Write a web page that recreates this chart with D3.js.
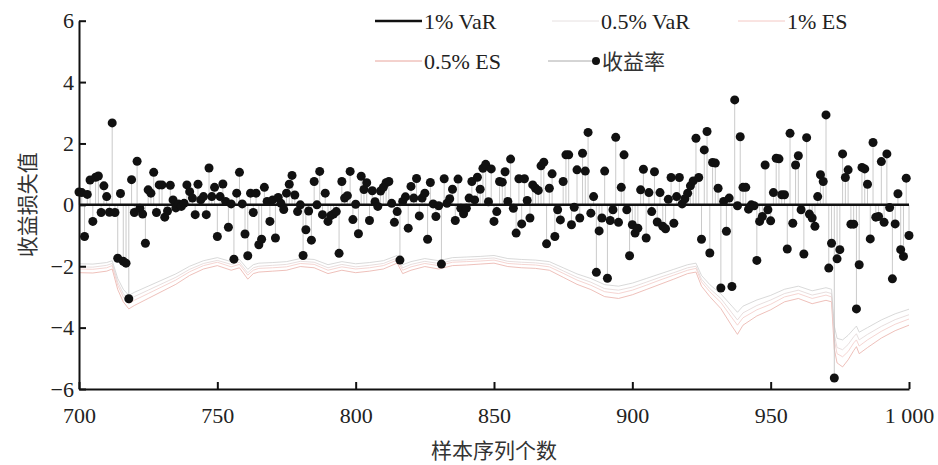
<!DOCTYPE html>
<html>
<head>
<meta charset="utf-8">
<script src="https://cdn.jsdelivr.net/npm/d3@7"></script>
<style>
    body { margin: 0; background: #fff; }
    svg { display: block; }
    .tick text { font-family: "Liberation Serif", "DejaVu Serif", serif; font-size: 22px; fill: #222; }
    .legend-text { font-family: "Liberation Serif", "DejaVu Serif", serif; font-size: 22px; fill: #222; }
    .cjk { font-family: "Noto Sans CJK SC", sans-serif; font-size: 21px; fill: #333; }
</style>
</head>
<body>
<svg id="chart" width="938" height="465"></svg>
<script>
// Sample numbers on the x axis start here, one return per sample
const FIRST_SAMPLE = 700;

// Daily return (收益率) for samples 700..1000
const returns = [
    0.42, 0.40, -1.03, 0.34, 0.81, -0.54, 0.90, 0.94, -0.25, 0.62,
    0.27, -0.24, 2.67, -0.25, -1.74, 0.37, -1.84, -1.90, -3.06, 0.82,
    -0.25, 1.42, -0.11, -0.30, -1.25, 0.49, 0.38, 1.06, -0.25, 0.65,
    0.65, -0.40, -0.20, 0.64, 0.16, -0.10, 0.03, -0.05, 0.05, 0.65,
    0.43, 0.22, -0.32, 0.67, 0.16, 0.27, -0.32, 1.20, 0.27, 0.57,
    -1.03, 0.27, 0.68, 0.11, -0.73, 0.03, -1.77, 0.38, 1.06, 0.03,
    -0.95, -1.66, 0.38, -0.25, 0.38, -1.30, -1.12, 0.57, 0.11, -0.54,
    0.16, -1.08, 0.24, 0.05, -0.15, 0.38, 0.67, 0.96, 0.32, -0.22,
    0.00, -1.65, -0.81, -0.20, -1.15, 0.76, 0.00, 1.09, -0.32, 0.38,
    -0.54, -0.35, -0.30, -0.22, -1.58, 0.76, 0.22, 0.30, 1.09, -0.48,
    0.02, -0.94, 0.93, 0.50, 0.72, -0.51, 0.46, 0.10, -0.05, 0.45,
    0.57, 0.72, 0.76, 0.05, -0.57, -0.22, -1.80, 0.11, 0.26, -0.76,
    0.60, 0.22, 0.86, -0.36, 0.22, 0.38, -1.12, 0.73, 0.03, -0.38,
    -0.03, -1.93, 0.85, 0.05, 0.20, 0.51, -0.51, 0.84, -0.11, -0.29,
    -0.11, 0.22, 0.76, 0.16, 0.90, 0.51, 1.19, 1.32, 0.10, 1.17,
    -0.54, -0.22, 0.76, 0.74, 1.08, 0.11, 1.49, -0.11, -0.92, 0.85,
    -0.62, 0.85, 0.14, -0.43, 0.65, 0.54, 0.47, 1.27, 1.39, -1.27,
    0.54, 1.01, -1.03, -0.16, -0.49, 0.76, 1.63, 1.63, -0.65, -0.08,
    1.14, -0.43, 1.68, 1.10, 2.36, -0.27, 0.27, -2.20, -0.85, -0.43,
    1.10, -2.39, -0.51, -0.16, 2.20, -0.57, 0.57, 1.63, -0.16, -1.66,
    -0.65, -0.92, -0.76, 0.49, 1.16, -1.08, 0.40, -0.22, 1.08, -0.56,
    0.40, -0.70, -0.78, 0.18, 0.89, -0.60, 0.27, 0.89, 0.03, 0.20,
    0.38, 0.62, 0.78, 2.17, 0.89, -1.12, 1.79, 2.39, -1.57, 1.38,
    1.36, 0.54, -2.71, 0.11, -0.86, 0.22, -2.66, 3.42, -0.03, 2.22,
    0.57, 0.57, -0.14, 0.00, -0.03, -1.81, -0.54, -0.38, 1.30, -0.16,
    -0.52, 0.40, 1.52, 1.50, 0.33, 0.33, -1.44, 2.33, -0.60, 1.30,
    1.60, -0.16, -1.60, 2.19, -0.30, -0.43, -0.70, 0.27, 0.98, 0.76,
    2.93, -2.06, -1.25, -5.64, -1.76, -1.46, 1.66, 0.89, 1.14, -0.63,
    -0.63, -3.39, -1.95, 1.22, 1.17, 0.67, -1.11, 2.03, -0.40, -0.38,
    1.41, -0.57, 1.66, -0.09, -2.41, -0.62, 0.36, -1.46, -1.68, 0.87,
    -1.00
];

// Samples where the risk curves were read
const riskSamples = [
    700, 705, 710, 712, 714, 716, 718, 720, 725, 730,
    735, 740, 745, 750, 755, 758, 761, 763, 765, 770,
    775, 780, 785, 790, 795, 800, 805, 810, 815, 817,
    820, 825, 830, 835, 840, 845, 850, 855, 860, 865,
    870, 875, 880, 885, 890, 895, 900, 905, 910, 915,
    920, 923, 925, 928, 932, 936, 938, 940, 945, 950,
    955, 960, 965, 970, 972, 973, 974, 976, 978, 980,
    981, 982, 985, 990, 995, 1000
];

const var1 = [
    -1.92, -1.93, -1.88, -1.82, -2.40, -2.75, -2.95, -2.85, -2.65, -2.45,
    -2.25, -2.00, -1.82, -1.72, -1.85, -1.78, -2.10, -1.95, -1.90, -1.88,
    -1.85, -1.75, -1.78, -1.95, -1.85, -1.92, -1.88, -1.82, -1.65, -1.95,
    -1.85, -1.75, -1.82, -1.72, -1.70, -1.68, -1.65, -1.75, -1.78, -1.80,
    -1.85, -2.05, -2.25, -2.40, -2.60, -2.65, -2.55, -2.40, -2.25, -2.10,
    -1.95, -1.90, -2.30, -2.60, -2.90, -3.30, -3.50, -3.30, -3.10, -2.95,
    -2.75, -2.65, -2.80, -2.70, -2.75, -3.95, -4.35, -4.40, -4.25, -4.05,
    -3.95, -4.15, -4.00, -3.75, -3.55, -3.40
];

const var05 = [
    -2.02, -2.03, -1.97, -1.91, -2.52, -2.89, -3.10, -2.99, -2.78, -2.57,
    -2.36, -2.10, -1.91, -1.81, -1.94, -1.87, -2.21, -2.05, -2.00, -1.97,
    -1.94, -1.84, -1.87, -2.05, -1.94, -2.02, -1.97, -1.91, -1.73, -2.05,
    -1.94, -1.84, -1.91, -1.81, -1.79, -1.76, -1.73, -1.84, -1.87, -1.89,
    -1.94, -2.15, -2.36, -2.52, -2.73, -2.78, -2.68, -2.52, -2.36, -2.21,
    -2.05, -2.00, -2.42, -2.73, -3.05, -3.52, -3.75, -3.52, -3.28, -3.10,
    -2.89, -2.78, -2.94, -2.84, -2.89, -4.22, -4.65, -4.72, -4.55, -4.30,
    -4.20, -4.40, -4.22, -3.96, -3.74, -3.58
];

const es1 = [
    -2.09, -2.10, -2.05, -1.98, -2.62, -3.00, -3.22, -3.11, -2.89, -2.67,
    -2.45, -2.18, -1.98, -1.87, -2.02, -1.94, -2.29, -2.13, -2.07, -2.05,
    -2.02, -1.91, -1.94, -2.13, -2.02, -2.09, -2.05, -1.98, -1.80, -2.13,
    -2.02, -1.91, -1.98, -1.87, -1.85, -1.83, -1.80, -1.91, -1.94, -1.96,
    -2.02, -2.23, -2.45, -2.62, -2.83, -2.89, -2.78, -2.62, -2.45, -2.29,
    -2.13, -2.07, -2.51, -2.83, -3.18, -3.68, -3.92, -3.68, -3.42, -3.24,
    -3.00, -2.89, -3.05, -2.94, -3.00, -4.40, -4.85, -4.95, -4.78, -4.50,
    -4.40, -4.60, -4.40, -4.12, -3.89, -3.72
];

const es05 = [
    -2.21, -2.22, -2.16, -2.09, -2.76, -3.16, -3.39, -3.28, -3.05, -2.82,
    -2.59, -2.30, -2.09, -1.98, -2.13, -2.05, -2.42, -2.24, -2.19, -2.16,
    -2.13, -2.01, -2.05, -2.24, -2.13, -2.21, -2.16, -2.09, -1.90, -2.24,
    -2.13, -2.01, -2.09, -1.98, -1.96, -1.93, -1.90, -2.01, -2.05, -2.07,
    -2.13, -2.36, -2.59, -2.76, -2.99, -3.05, -2.93, -2.76, -2.59, -2.42,
    -2.24, -2.19, -2.65, -2.99, -3.38, -3.95, -4.22, -3.92, -3.62, -3.42,
    -3.16, -3.05, -3.22, -3.11, -3.16, -4.70, -5.15, -5.28, -5.05, -4.75,
    -4.62, -4.85, -4.65, -4.34, -4.10, -3.92
];

// Axis ticks
const xTicks = [700, 750, 800, 850, 900, 950, 1000];
const xTickLabels = ["700", "750", "800", "850", "900", "950", "1 000"];
const yTicks = [-6, -4, -2, 0, 2, 4, 6];

const svg = d3.select("#chart");

const x = d3.scaleLinear().domain([700, 1000]).range([79, 909]);
const y = d3.scaleLinear().domain([-6, 6]).range([389, 20.7]);

svg.append("rect").attr("width", 938).attr("height", 465).attr("fill", "#fff");

// Risk curves, lightest on top of the stack drawn first
const riskSeries = [
    {"values": es05, "color": "#eab0a8", "width": 0.8},
    {"values": es1, "color": "#f2cac6", "width": 0.8},
    {"values": var05, "color": "#e2d6d6", "width": 0.8},
    {"values": var1, "color": "#cfcfcf", "width": 0.8}
];

const riskLine = d3.line()
    .x((d) => x(d[0]))
    .y((d) => y(d[1]));

riskSeries.forEach((series) => {
    const points = riskSamples.map((s, i) => [s, series.values[i]]);
    svg.append("path")
        .datum(points)
        .attr("fill", "none")
        .attr("stroke", series.color)
        .attr("stroke-width", series.width)
        .attr("d", riskLine);
});

// Return stems and dots
const returnData = returns.map((v, i) => ({"sample": FIRST_SAMPLE + i, "value": v}));

svg.append("g")
    .selectAll("line")
    .data(returnData)
    .enter().append("line")
    .attr("x1", (d) => x(d.sample))
    .attr("x2", (d) => x(d.sample))
    .attr("y1", y(0))
    .attr("y2", (d) => y(d.value))
    .attr("stroke", "#bdbdbd")
    .attr("stroke-width", 0.8);

// Zero line
svg.append("line")
    .attr("x1", x(700)).attr("x2", x(1000))
    .attr("y1", y(0)).attr("y2", y(0))
    .attr("stroke", "#111")
    .attr("stroke-width", 2.5);

svg.append("g")
    .selectAll("circle")
    .data(returnData)
    .enter().append("circle")
    .attr("cx", (d) => x(d.sample))
    .attr("cy", (d) => y(d.value))
    .attr("r", 4.5)
    .attr("fill", "#111");

// Axes
const xAxis = d3.axisBottom(x)
    .tickValues(xTicks)
    .tickFormat((d, i) => xTickLabels[i])
    .tickSizeInner(-7)
    .tickSizeOuter(0)
    .tickPadding(18);

const yAxis = d3.axisLeft(y)
    .tickValues(yTicks)
    .tickSizeInner(-7)
    .tickSizeOuter(0)
    .tickPadding(5);

const xAxisG = svg.append("g")
    .attr("transform", "translate(0," + y(-6) + ")")
    .call(xAxis);

const yAxisG = svg.append("g")
    .attr("transform", "translate(" + x(700) + ",0)")
    .call(yAxis);

[xAxisG, yAxisG].forEach((g) => {
    g.select(".domain").attr("stroke", "#111").attr("stroke-width", 2);
    g.selectAll(".tick line").attr("stroke", "#111").attr("stroke-width", 2);
});

// Axis titles
svg.append("text")
    .attr("class", "cjk")
    .attr("text-anchor", "middle")
    .attr("transform", "translate(35," + y(0) + ") rotate(-90)")
    .text("收益损失值");

svg.append("text")
    .attr("class", "cjk")
    .attr("text-anchor", "middle")
    .attr("x", x(850))
    .attr("y", 458)
    .text("样本序列个数");

// Legend
const legendItems = [
    {"label": "1% VaR", "color": "#111", "width": 2.5, "x": 375, "y": 21, "dot": false},
    {"label": "0.5% VaR", "color": "#e6e0e0", "width": 1, "x": 552, "y": 21, "dot": false},
    {"label": "1% ES", "color": "#f4c8c4", "width": 1, "x": 738, "y": 21, "dot": false},
    {"label": "0.5% ES", "color": "#e8a49c", "width": 1, "x": 375, "y": 61, "dot": false},
    {"label": "收益率", "color": "#aaa", "width": 1, "x": 548, "y": 61, "dot": true}
];

legendItems.forEach((item) => {
    const g = svg.append("g").attr("transform", "translate(" + item.x + "," + item.y + ")");
    g.append("line")
        .attr("x1", 0).attr("x2", 47)
        .attr("stroke", item.color)
        .attr("stroke-width", item.width);
    if (item.dot) {
        g.append("circle").attr("cx", 48).attr("r", 4).attr("fill", "#111");
    }
    g.append("text")
        .attr("class", item.dot ? "cjk" : "legend-text")
        .attr("x", item.dot ? 54 : 49)
        .attr("y", 7.5)
        .text(item.label);
});
</script>
</body>
</html>
